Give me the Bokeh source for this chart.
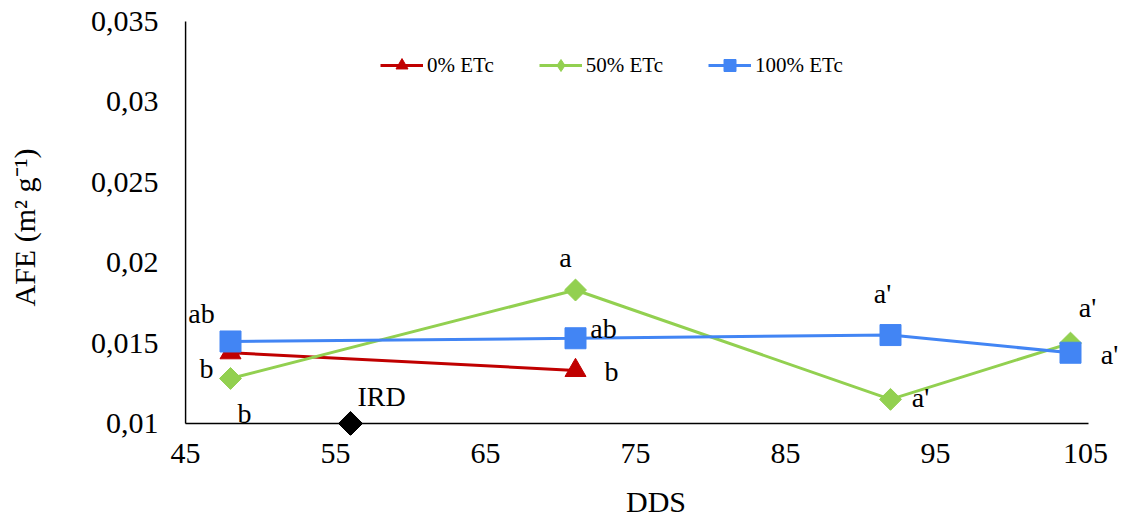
import math
from bokeh.plotting import figure
from bokeh.models import (ColumnDataSource, LabelSet, FixedTicker, CustomJSTickFormatter,
                          Legend, LegendItem)
from bokeh.embed import file_html
from bokeh.resources import INLINE

# ---- data ----
dds_0 = [48, 71]
afe_0 = [0.0144, 0.0133]
dds_50 = [48, 71, 92, 104]
afe_50 = [0.0128, 0.0183, 0.0115, 0.0150]
dds_100 = [48, 71, 92, 104]
afe_100 = [0.0151, 0.0153, 0.0155, 0.0144]
ird_x = [56]
ird_y = [0.01]
x_ticks = [45, 55, 65, 75, 85, 95, 105]
y_ticks = [0.01, 0.015, 0.02, 0.025, 0.03, 0.035]
lab_text = ["ab", "b", "b", "IRD", "a", "ab", "b", "a'", "a'", "a'", "a'"]
lab_x = [46.07, 46.4, 48.93, 58.07, 70.33, 72.87, 73.4, 91.47, 94.0, 105.13, 106.6]
lab_y = [0.01628, 0.01286, 0.01006, 0.01106, 0.01976, 0.01529, 0.01267,
         0.01752, 0.0110, 0.01665, 0.01373]

FONT = "Liberation Serif"
RED = "#C00000"
GREEN = "#92D050"
BLUE = "#4285F4"

X_MIN, X_MAX = 45, 105
Y_MIN, Y_MAX = 0.01, 0.035

p = figure(frame_width=943, frame_height=416,
           x_range=(44.933, 107.8), y_range=(0.009253, 0.035124),
           output_backend="svg", toolbar_location=None,
           min_border_left=184, min_border_right=0, min_border_top=19, min_border_bottom=88)
p.outline_line_color = None
p.grid.visible = False
p.background_fill_color = "white"
p.border_fill_color = "white"

# axis lines drawn as segments so markers sitting on the axis are not clipped
p.segment(x0=[X_MIN, X_MIN], y0=[Y_MIN, Y_MIN], x1=[X_MIN, X_MAX + 0.2], y1=[Y_MAX, Y_MIN],
          line_color="black", line_width=1.6)

for ax in (p.xaxis[0], p.yaxis[0]):
    ax.axis_line_color = None
    ax.major_tick_line_color = None
    ax.minor_tick_line_color = None
    ax.major_tick_out = 0
    ax.major_tick_in = 0
    ax.minor_tick_out = 0
    ax.minor_tick_in = 0
    ax.major_label_text_font = FONT
    ax.major_label_text_font_size = "30px"
    ax.major_label_text_color = "black"
    ax.axis_label_text_font = FONT
    ax.axis_label_text_font_size = "30px"
    ax.axis_label_text_font_style = "normal"
    ax.axis_label_text_color = "black"

p.xaxis.ticker = FixedTicker(ticks=x_ticks)
p.yaxis.ticker = FixedTicker(ticks=y_ticks)
p.yaxis.formatter = CustomJSTickFormatter(code="return tick.toString().replace('.', ',');")
p.xaxis.axis_label = "DDS"
p.yaxis.axis_label = "AFE (m² g⁻¹)"
p.xaxis.major_label_standoff = 8
p.xaxis.axis_label_standoff = 19
p.yaxis.major_label_standoff = 26
p.yaxis.axis_label_standoff = 47

# series
l0 = p.line(dds_0, afe_0, line_color=RED, line_width=3)
m0 = p.scatter(dds_0, afe_0, marker="triangle", size=21, fill_color=RED, line_color=RED)
l50 = p.line(dds_50, afe_50, line_color=GREEN, line_width=3)
# legend-style diamond, fully covered by the square-ish diamond drawn above it
leg50 = p.scatter(dds_50, afe_50, marker="diamond", size=20, fill_color=GREEN, line_color=GREEN)
m50 = p.scatter(dds_50, afe_50, marker="square", angle=math.pi / 4, size=15.5,
                fill_color=GREEN, line_color=GREEN)
l100 = p.line(dds_100, afe_100, line_color=BLUE, line_width=3)
m100 = p.scatter(dds_100, afe_100, marker="square", size=21, fill_color=BLUE, line_color=BLUE)
p.scatter(ird_x, ird_y, marker="square", angle=math.pi / 4, size=17,
          fill_color="black", line_color="black")

labels = LabelSet(x="x", y="y", text="t",
                  source=ColumnDataSource(dict(x=lab_x, y=lab_y, t=lab_text)),
                  text_font=FONT, text_font_size="28px", text_color="black",
                  text_align="center", text_baseline="alphabetic")
p.add_layout(labels)

legend = Legend(items=[LegendItem(label="0% ETc", renderers=[l0, m0]),
                       LegendItem(label="50% ETc", renderers=[l50, leg50]),
                       LegendItem(label="100% ETc", renderers=[l100, m100])],
                orientation="horizontal", location=(196, 355),
                glyph_width=43, glyph_height=30, label_standoff=4, spacing=45,
                padding=0, margin=0, border_line_color=None, background_fill_alpha=0,
                label_text_font=FONT, label_text_font_size="21px", label_text_color="black")
p.add_layout(legend, "center")

open("out.html", "w").write(file_html(p, INLINE))
